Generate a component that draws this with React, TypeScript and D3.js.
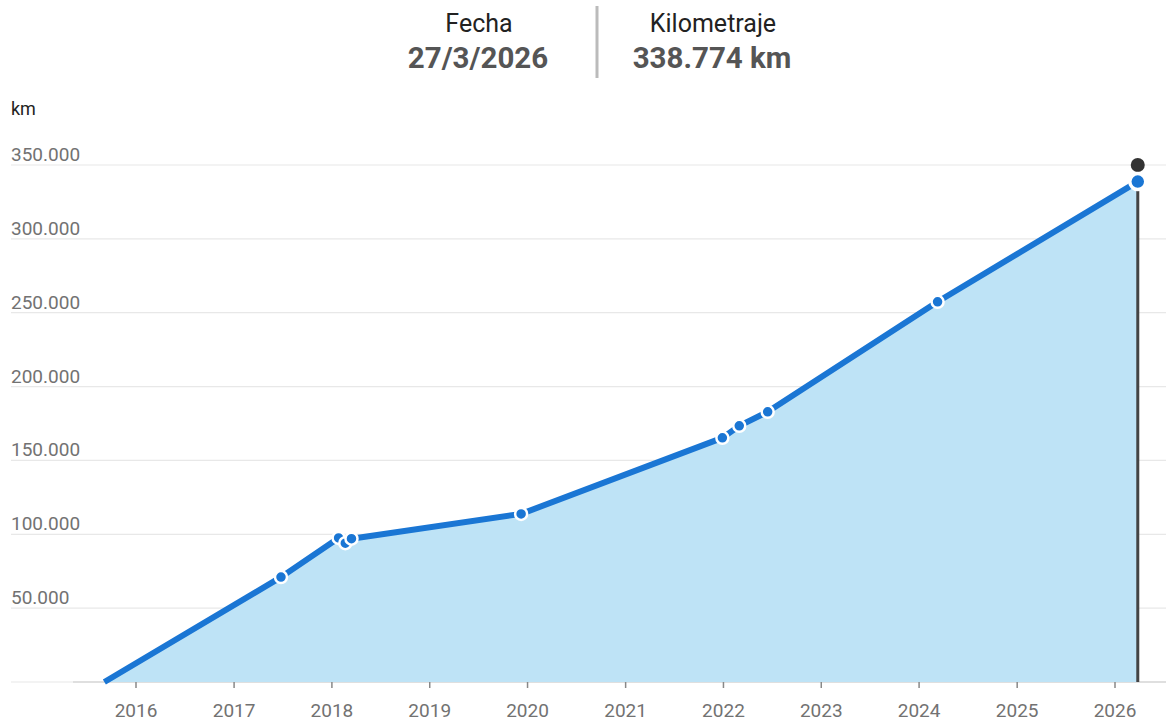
import React from 'react';
import * as d3 from 'd3';

// Odometer readings
const dates = [
  '2015-09-05', '2017-06-25', '2018-01-26', '2018-02-20', '2018-03-15',
  '2019-12-08', '2021-12-28', '2022-03-01', '2022-06-15', '2024-03-10', '2026-03-27',
];
const kms = [0, 71000, 97500, 94000, 97000, 113800, 165300, 173400, 182900, 257400, 338774];
const yTicks = [50000, 100000, 150000, 200000, 250000, 300000, 350000];
const xYears = [2016, 2017, 2018, 2019, 2020, 2021, 2022, 2023, 2024, 2025, 2026];
const headerDate = '27/3/2026';
const headerKm = '338.774 km';

const W = 1166;
const H = 722;
const FONT = 'Roboto, "Noto Sans", sans-serif';
const BLUE = '#1a76d4';
const AREA = '#bee3f6';

const fmt = (v: number) => d3.format(',')(v).replace(/,/g, '.');

const App = () => {
  const data = dates.map((d, i) => ({ date: new Date(d + 'T00:00:00'), km: kms[i] }));

  const x = d3.scaleTime()
    .domain([new Date(2016, 0, 1), new Date(2026, 0, 1)])
    .range([136, 1115]);
  const y = d3.scaleLinear().domain([0, 350000]).range([682, 165]);

  const area = d3.area<{ date: Date; km: number }>()
    .x(d => x(d.date))
    .y0(y(0))
    .y1(d => y(d.km));
  const line = d3.line<{ date: Date; km: number }>()
    .x(d => x(d.date))
    .y(d => y(d.km));

  const last = data[data.length - 1];
  const lx = x(last.date);

  return (
    <svg width={W} height={H} style={{ position: 'absolute', left: 0, top: 0, display: 'block' }}
      fontFamily={FONT}>
      {/* header */}
      <text x={479} y={32} textAnchor='middle' fontSize={25} fill='#222'>Fecha</text>
      <text x={478} y={68} textAnchor='middle' fontSize={29.5} fontWeight='bold' fill='#555'>{headerDate}</text>
      <line x1={597} x2={597} y1={6} y2={78} stroke='#bbb' strokeWidth={3} />
      <text x={713} y={32} textAnchor='middle' fontSize={25} fill='#222'>Kilometraje</text>
      <text x={712} y={68} textAnchor='middle' fontSize={29.5} fontWeight='bold' fill='#555'>{headerKm}</text>

      <text x={11} y={115} fontSize={18} fill='#222'>km</text>

      {/* grid */}
      {[0, ...yTicks].map(t => (
        <line key={t} x1={11} x2={W} y1={y(t)} y2={y(t)} stroke='#e8e8e8' strokeWidth={1.2} />
      ))}
      <line x1={73} x2={W} y1={y(0)} y2={y(0)} stroke='#d8d8d8' strokeWidth={1.5} />
      {yTicks.map(t => (
        <text key={t} x={11} y={y(t) - 4} fontSize={19} fill='#727272'>{fmt(t)}</text>
      ))}

      {/* x axis */}
      {xYears.map(yr => {
        const px = x(new Date(yr, 0, 1));
        return (
          <g key={yr}>
            <line x1={px} x2={px} y1={674} y2={688} stroke='#888' strokeWidth={1.5} />
            <text x={px} y={717} textAnchor='middle' fontSize={19} fill='#727272'>{yr}</text>
          </g>
        );
      })}

      {/* series */}
      <path d={area(data) ?? ''} fill={AREA} />
      <path d={line(data) ?? ''} fill='none' stroke={BLUE} strokeWidth={6} strokeLinejoin='round' />

      {/* crosshair */}
      <line x1={lx} x2={lx} y1={y(last.km)} y2={y(0)} stroke='#444' strokeWidth={3} />
      <circle cx={lx} cy={y(350000)} r={7} fill='#333' />

      {data.slice(1, -1).map((d, i) => (
        <circle key={i} cx={x(d.date)} cy={y(d.km)} r={6} fill={BLUE} stroke='#fff' strokeWidth={2.5} />
      ))}
      <circle cx={lx} cy={y(last.km)} r={8} fill={BLUE} stroke='#fff' strokeWidth={3.5} />
    </svg>
  );
};

export default App;
